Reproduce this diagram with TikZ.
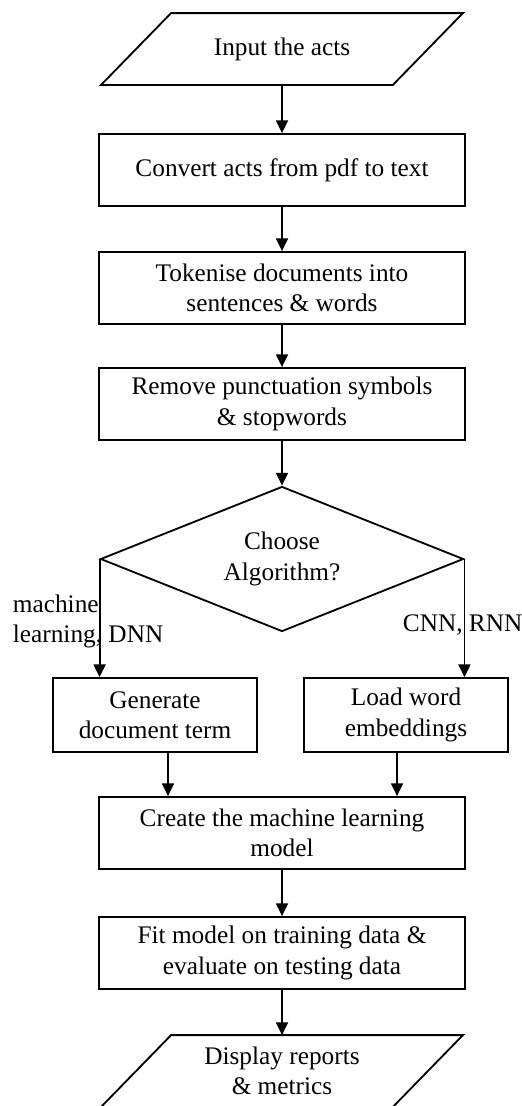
\documentclass[tikz,border=0pt]{standalone}
\usepackage{fontspec}
\setmainfont{Liberation Serif}
\usepackage{tikz}
\usetikzlibrary{shapes,arrows.meta,positioning}

\begin{document}
\begin{tikzpicture}[->,>={Triangle[length=9pt,width=8.5pt]},line width=1.3pt,
        every node/.style = {font=\fontsize{18}{21.5}\selectfont, align=center},
        stepbox/.style = {shape=rectangle, draw, minimum width=9.15cm,
            minimum height=1.8cm, inner sep=2pt},
        smallbox/.style = {stepbox, minimum width=5.1cm, minimum height=1.85cm},
        iobox/.style = {shape=rectangle, minimum width=7.25cm,
            minimum height=1.75cm, inner sep=0pt},
        choice/.style = {shape=diamond, draw, aspect=2.5, minimum width=9.075cm,
            minimum height=3.625cm, inner sep=0pt},
        branch/.style = {align=left, inner sep=0pt}]
      \useasboundingbox (0,0) rectangle (13.05,-27.65);
      \node [iobox] (in) at (7.05,-1.225) {Input the acts};
      \node [stepbox] (conv) at (7.05,-4.25) {Convert acts from pdf to text};
      \node [stepbox] (tok) at (7.05,-7.2) {Tokenise documents into\\sentences \& words};
      \node [stepbox] (rem) at (7.05,-10.1) {Remove punctuation symbols\\\& stopwords};
      \node [choice] (alg) at (7.05,-13.975) {Choose\\Algorithm?};
      \node [smallbox] (gen) at (3.875,-17.875) {Generate\\document term};
      \node [smallbox] (load) at (10.15,-17.875) {Load word\\embeddings};
      \node [stepbox] (model) at (7.05,-20.825) {Create the machine learning\\model};
      \node [stepbox] (fit) at (7.05,-23.825) {Fit model on training data \&\\evaluate on testing data};
      \node [iobox] (out) at (7.05,-26.775) {Display reports\\\& metrics};
      % slanted outline of the input/output boxes
      \foreach \io in {in,out}
        \draw [-] ([xshift=8.75mm]\io.north west) -- ([xshift=8.75mm]\io.north east)
            -- ([xshift=-8.75mm]\io.south east) -- ([xshift=-8.75mm]\io.south west) -- cycle;
      % branch labels
      \node [branch, anchor=north west] (mlabel) at (0.3,-14.85) {machine\\learning, DNN};
      \node [branch, anchor=west] (dlabel) at (10.05,-15.625) {CNN, RNN};
      % main flow
      \draw (in) -- (conv);
      \draw (conv) -- (tok);
      \draw (tok) -- (rem);
      \draw (rem) -- (alg);
      \draw (alg.west) -- (alg.west |- gen.north);
      \draw (alg.east) -- (alg.east |- load.north);
      \draw ([xshift=3.25mm]gen.south) -- ([xshift=3.25mm]gen.south |- model.north);
      \draw ([xshift=-2.25mm]load.south) -- ([xshift=-2.25mm]load.south |- model.north);
      \draw (model) -- (fit);
      \draw (fit) -- (out);
\end{tikzpicture}
\end{document}
